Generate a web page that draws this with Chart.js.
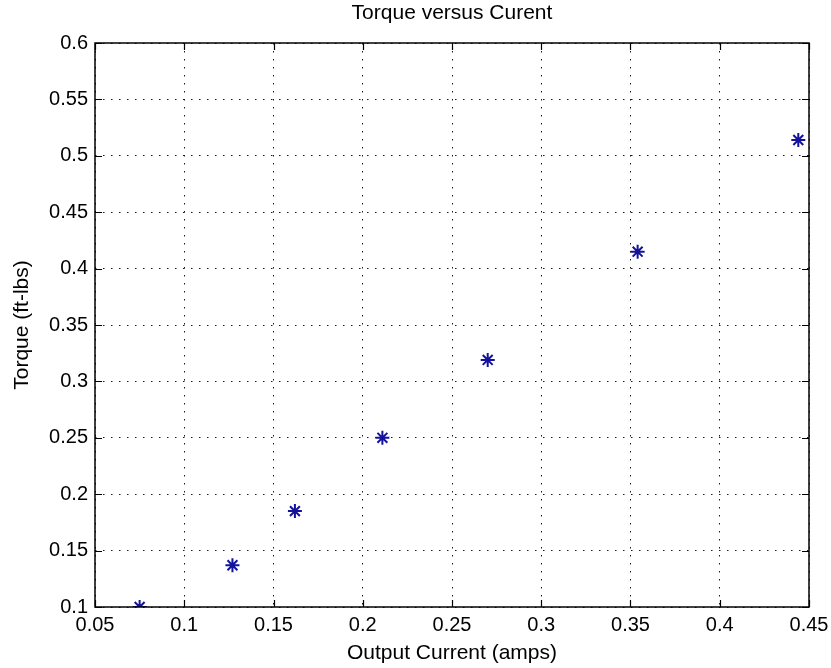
<!DOCTYPE html>
<html>
<head>
<meta charset="utf-8">
<script src="https://cdn.jsdelivr.net/npm/chart.js@4"></script>
<style>
  html, body { margin: 0; padding: 0; background: #fff; overflow: hidden; }
  #wrap { width: 831px; height: 668px; }
</style>
</head>
<body>
<div id="wrap"><canvas id="torqueCanvas" width="831" height="668"></canvas></div>
<script>
// data
var currentAmps = [0.075, 0.127, 0.162, 0.211, 0.270, 0.354, 0.444];
var torqueFtLbs = [0.100, 0.137, 0.185, 0.250, 0.319, 0.415, 0.514];
var xTicks = [0.05, 0.1, 0.15, 0.2, 0.25, 0.3, 0.35, 0.4, 0.45];
var yTicks = [0.1, 0.15, 0.2, 0.25, 0.3, 0.35, 0.4, 0.45, 0.5, 0.55, 0.6];

var FONT = "'Liberation Sans', Arial, Helvetica, sans-serif";

function fmt(v) {
  return String(parseFloat(v.toFixed(2)));
}

// matlab style box with inward ticks
var boxPlugin = {
  id: "matlabBox",
  afterDraw: function (chart) {
    var ctx = chart.ctx;
    var a = chart.chartArea;
    var xs = chart.scales.x, ys = chart.scales.y;
    var len = 7;
    ctx.save();
    ctx.strokeStyle = "#000";
    ctx.lineWidth = 1.5;
    ctx.setLineDash([]);
    ctx.strokeRect(a.left, a.top, a.right - a.left, a.bottom - a.top);
    ctx.lineWidth = 1.2;
    ctx.beginPath();
    xTicks.forEach(function (t) {
      var px = Math.round(xs.getPixelForValue(t)) + 0.5;
      ctx.moveTo(px, a.bottom); ctx.lineTo(px, a.bottom - len);
      ctx.moveTo(px, a.top); ctx.lineTo(px, a.top + len);
    });
    yTicks.forEach(function (t) {
      var py = Math.round(ys.getPixelForValue(t)) + 0.5;
      ctx.moveTo(a.left, py); ctx.lineTo(a.left + len, py);
      ctx.moveTo(a.right, py); ctx.lineTo(a.right - len, py);
    });
    ctx.stroke();
    ctx.restore();
  }
};

document.addEventListener("DOMContentLoaded", function () {
  var ctx = document.getElementById("torqueCanvas").getContext("2d");
  var points = currentAmps.map(function (x, i) { return { x: x, y: torqueFtLbs[i] }; });

  new Chart(ctx, {
    type: "scatter",
    data: {
      datasets: [
        {
          label: "Torque",
          data: points,
          pointStyle: "star",
          pointRadius: 7,
          pointHoverRadius: 7,
          borderWidth: 2,
          borderColor: "#12129c",
          backgroundColor: "#12129c",
        },
      ],
    },
    options: {
      responsive: false,
      animation: false,
      layout: { padding: { top: 0, right: 22, bottom: 0, left: 0 } },
      plugins: {
        legend: { display: false },
        tooltip: { enabled: false },
      },
      scales: {
        x: {
          type: "linear",
          min: 0.05,
          max: 0.45,
          afterBuildTicks: function (scale) {
            scale.ticks = xTicks.map(function (v) { return { value: v }; });
          },
          afterFit: function (scale) {
            scale.height = 61;
            scale.paddingLeft = 0;
            scale.paddingRight = 0;
          },
          ticks: {
            color: "#000",
            padding: 6,
            maxRotation: 0,
            autoSkip: false,
            font: { family: FONT, size: 20 },
            callback: function (v) { return fmt(v); },
          },
          grid: {
            drawTicks: false,
            tickLength: 0,
            color: "#1a1a1a",
            lineWidth: 1,
          },
          border: { display: false, dash: [1.5, 6.5] },
          title: {
            display: true,
            text: "Output Current (amps)",
            color: "#000",
            font: { family: FONT, size: 21, lineHeight: 1.2 },
            padding: { top: 0, bottom: 2.4 },
          },
        },
        // top axis only carries the chart title, centred over the plot
        xTop: {
          type: "linear",
          position: "top",
          min: 0.05,
          max: 0.45,
          afterFit: function (scale) {
            scale.height = 43;
            scale.paddingLeft = 0;
            scale.paddingRight = 0;
          },
          ticks: { display: false },
          grid: { display: false, drawTicks: false },
          border: { display: false },
          title: {
            display: true,
            text: "Torque versus Curent",
            color: "#000",
            font: { family: FONT, size: 21, lineHeight: 1.2 },
            padding: { top: 0.5, bottom: 0 },
          },
        },
        y: {
          type: "linear",
          min: 0.1,
          max: 0.6,
          afterBuildTicks: function (scale) {
            scale.ticks = yTicks.map(function (v) { return { value: v }; });
          },
          afterFit: function (scale) { scale.width = 95; },
          ticks: {
            color: "#000",
            padding: 7,
            autoSkip: false,
            font: { family: FONT, size: 20 },
            callback: function (v) { return fmt(v); },
          },
          grid: {
            drawTicks: false,
            tickLength: 0,
            color: "#1a1a1a",
            lineWidth: 1,
          },
          border: { display: false, dash: [1.5, 6.5] },
          title: {
            display: true,
            text: "Torque (ft-lbs)",
            color: "#000",
            font: { family: FONT, size: 21, lineHeight: 1.2 },
            padding: { top: 10, bottom: 0 },
          },
        },
      },
    },
    plugins: [boxPlugin],
  });
});
</script>
</body>
</html>
